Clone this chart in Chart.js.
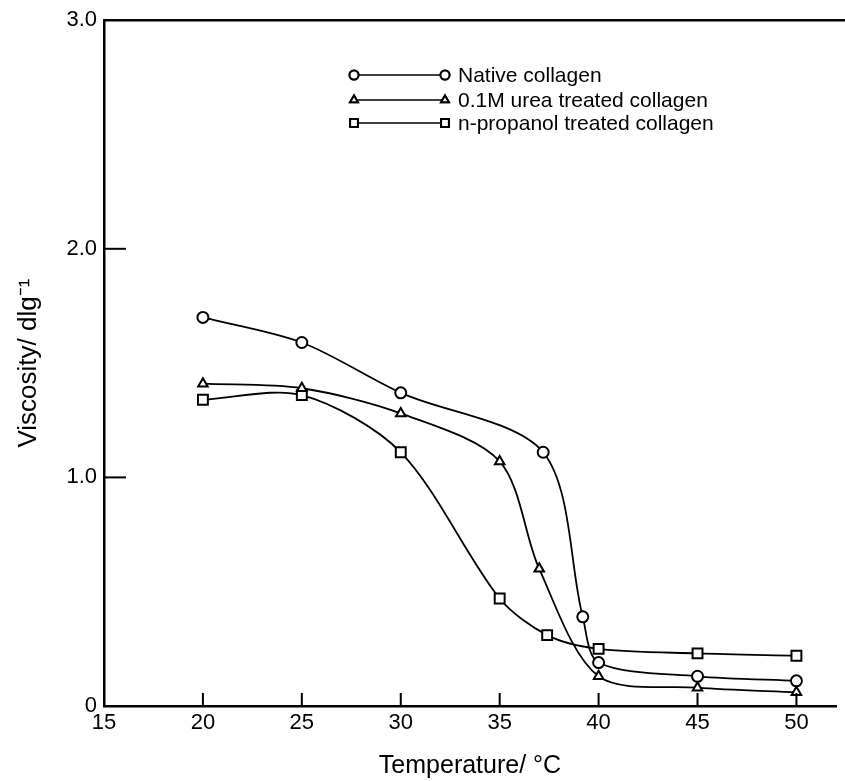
<!DOCTYPE html>
<html>
<head>
<meta charset="utf-8">
<script src="https://cdn.jsdelivr.net/npm/chart.js@4/dist/chart.umd.min.js"></script>
<style>
  html, body { margin: 0; padding: 0; background: #fff; }
  #wrap { width: 845px; height: 781px; }
</style>
</head>
<body>
<div id="wrap"><canvas id="chart" width="845" height="781"></canvas></div>
<script>
// data
const seriesNames = ["Native collagen", "0.1M urea treated collagen", "n-propanol treated collagen"];
const nativeTemps = [20, 25, 30, 37.2, 39.2, 40, 45, 50];
const nativeVisc  = [1.70, 1.59, 1.37, 1.11, 0.39, 0.19, 0.13, 0.11];
const ureaTemps   = [20, 25, 30, 35, 37, 40, 45, 50];
const ureaVisc    = [1.41, 1.39, 1.28, 1.07, 0.60, 0.13, 0.08, 0.06];
const propTemps   = [20, 25, 30, 35, 37.4, 40, 45, 50];
const propVisc    = [1.34, 1.36, 1.11, 0.47, 0.31, 0.25, 0.23, 0.22];
const xTicks = [15, 20, 25, 30, 35, 40, 45, 50];
const yTicks = [0, 1, 2, 3];

const FONT = "'Liberation Sans', Arial, sans-serif";
const styles = ["circle", "triangle", "rect"];
const radii = [5.5, 5.5, 7];

const toPoints = (xs, ys) => xs.map((x, i) => ({ x, y: ys[i] }));

// inward ticks, top frame line, custom legend
const decor = {
    id: "decor",
    afterDraw(chart) {
        const ctx = chart.ctx;
        const { left, top, bottom } = chart.chartArea;
        const xs = chart.scales.x, ys = chart.scales.y;
        ctx.save();
        ctx.strokeStyle = "#000";
        ctx.lineWidth = 2.5;
        ctx.beginPath();
        ctx.moveTo(left, top);
        ctx.lineTo(chart.width, top);
        ctx.stroke();
        ctx.lineWidth = 2;
        xTicks.slice(1).forEach(v => {
            const px = xs.getPixelForValue(v);
            ctx.beginPath();
            ctx.moveTo(px, bottom);
            ctx.lineTo(px, bottom - 13);
            ctx.stroke();
        });
        yTicks.slice(1, 3).forEach(v => {
            const py = ys.getPixelForValue(v);
            ctx.beginPath();
            ctx.moveTo(left, py);
            ctx.lineTo(left + 22, py);
            ctx.stroke();
        });

        // legend
        const rows = [75, 100, 123];
        chart.data.datasets.forEach((ds, i) => {
            const y = rows[i];
            ctx.lineWidth = 1.6;
            ctx.beginPath();
            ctx.moveTo(354, y);
            ctx.lineTo(445, y);
            ctx.stroke();
            [354, 445].forEach(x => {
                ctx.fillStyle = "#fff";
                ctx.lineWidth = 2;
                Chart.helpers.drawPoint(ctx, { pointStyle: styles[i], radius: i === 2 ? 5.5 : 4.5, borderWidth: 2 }, x, y);
                ctx.fill();
                ctx.stroke();
            });
            ctx.fillStyle = "#000";
            ctx.font = "21px " + FONT;
            ctx.textBaseline = "middle";
            ctx.fillText(ds.label, 458, y + 1);
        });
        ctx.restore();
    }
};

const datasets = [
    toPoints(nativeTemps, nativeVisc),
    toPoints(ureaTemps, ureaVisc),
    toPoints(propTemps, propVisc)
].map((pts, i) => ({
    label: seriesNames[i],
    data: pts,
    borderColor: "#000",
    borderWidth: 1.8,
    backgroundColor: "#fff",
    pointStyle: styles[i],
    pointRadius: radii[i],
    pointBorderWidth: 2,
    pointBackgroundColor: "#fff",
    pointBorderColor: "#000",
    tension: 0.3,
    fill: false
}));

new Chart(document.getElementById("chart"), {
    type: "line",
    data: { datasets },
    options: {
        responsive: false,
        animation: false,
        layout: { padding: { top: 20, right: 2, left: 0, bottom: 0 } },
        plugins: { legend: { display: false }, tooltip: { enabled: false } },
        scales: {
            x: {
                type: "linear",
                min: 15,
                max: 52,
                afterBuildTicks: s => { s.ticks = xTicks.map(v => ({ value: v })); },
                afterFit: s => { s.height = 75; },
                grid: { display: false, drawTicks: false },
                border: { display: true, color: "#000", width: 2.5 },
                ticks: { color: "#000", font: { family: FONT, size: 22 }, padding: 4, maxRotation: 0 },
                title: {
                    display: true,
                    text: "Temperature/ °C",
                    color: "#000",
                    font: { family: FONT, size: 25 },
                    padding: { top: 0, bottom: 0 }
                }
            },
            y: {
                min: 0,
                max: 3,
                afterBuildTicks: s => { s.ticks = yTicks.map(v => ({ value: v })); },
                afterFit: s => { s.width = 104; },
                grid: { display: false, drawTicks: false },
                border: { display: true, color: "#000", width: 2.5 },
                ticks: {
                    color: "#000",
                    font: { family: FONT, size: 22 },
                    padding: 7,
                    callback: v => v === 0 ? "0" : v.toFixed(1)
                },
                title: {
                    display: true,
                    text: "Viscosity/ dlg⁻¹",
                    color: "#000",
                    font: { family: FONT, size: 26 },
                    padding: { top: 13, bottom: 0 }
                }
            }
        }
    },
    plugins: [decor]
});
</script>
</body>
</html>
